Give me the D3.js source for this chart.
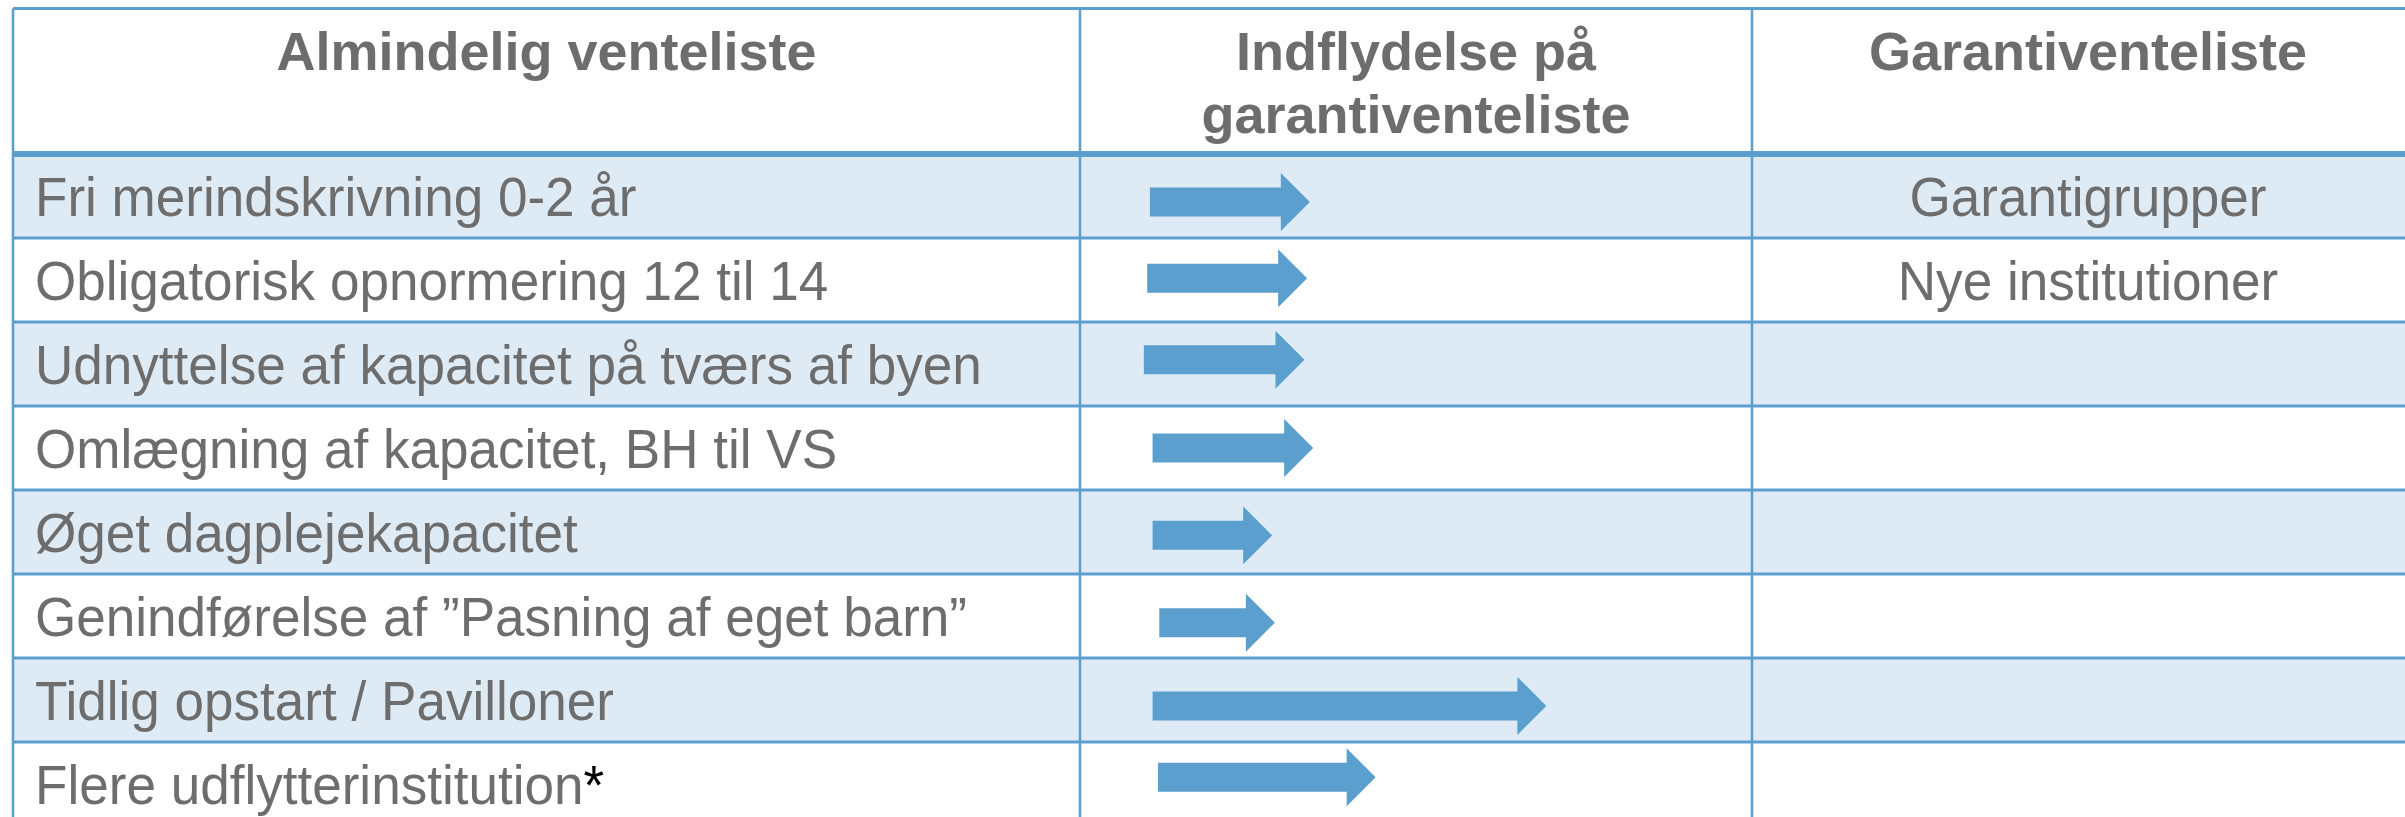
<!DOCTYPE html>
<html lang="da">

<head>
    <meta charset="UTF-8">
    <title>Venteliste</title>
    <script src="https://cdnjs.cloudflare.com/ajax/libs/d3/7.9.0/d3.min.js"></script>
    <style>
        body {
            margin: 0;
            background-color: white;
            overflow: hidden;
        }
        text {
            font-family: "Liberation Sans", Arial, Helvetica, sans-serif;
            fill: #6d6d6d;
        }
        .head {
            font-weight: bold;
            font-size: 54px;
        }
        .cell {
            font-size: 55px;
        }
    </style>
</head>

<body>
    <svg id="chart" width="2405" height="817"></svg>
    <script>
        const headers = [
            ['Almindelig venteliste'],
            ['Indflydelse på', 'garantiventeliste'],
            ['Garantiventeliste'],
        ];

        const measures = [
            'Fri merindskrivning 0-2 år',
            'Obligatorisk opnormering 12 til 14',
            'Udnyttelse af kapacitet på tværs af byen',
            'Omlægning af kapacitet, BH til VS',
            'Øget dagplejekapacitet',
            'Genindførelse af ”Pasning af eget barn”',
            'Tidlig opstart / Pavilloner',
            'Flere udflytterinstitution',
        ];
        const footnoted = [false, false, false, false, false, false, false, true];

        // arrows: start / end on a 0-100 scale across the middle column
        const arrowStart = [10.4, 10.0, 9.5, 10.8, 10.8, 11.8, 10.8, 11.6];
        const arrowEnd = [34.2, 33.8, 33.4, 34.7, 28.6, 29.0, 69.4, 44.0];
        // vertical position of arrow inside its row (0 = top, 1 = bottom)
        const arrowRowPos = [0.57, 0.48, 0.45, 0.50, 0.54, 0.58, 0.57, 0.42];

        const guaranteeGroups = ['Garantigrupper', 'Nye institutioner', '', '', '', '', '', ''];

        const lineColor = '#5b9fcf';
        const arrowColor = '#5a9fce';
        const stripe = '#deebf5';

        const svg = d3.select('#chart');

        // column edges
        const colEdges = [13, 1080, 1752, 2424];
        const tableTop = 8.5;
        const headBottom = 154;
        const rowH = 84;
        const squeeze = 0.965; // reference font is a bit narrower than Liberation Sans

        const y = d3.scaleLinear().domain([0, 1]).range([headBottom, headBottom + rowH]);
        const xMid = d3.scaleLinear().domain([0, 100]).range([colEdges[1], colEdges[2]]);
        const colCenter = i => (colEdges[i] + colEdges[i + 1]) / 2;

        // row backgrounds
        svg.append('g').selectAll('rect')
            .data(measures)
            .join('rect')
            .attr('x', colEdges[0])
            .attr('y', (d, i) => y(i))
            .attr('width', colEdges[3] - colEdges[0])
            .attr('height', rowH)
            .attr('fill', (d, i) => i % 2 === 0 ? stripe : 'white');

        // arrows
        const shaft = 29, head = 58, headLen = 29;
        svg.append('g').selectAll('path')
            .data(measures)
            .join('path')
            .attr('fill', arrowColor)
            .attr('d', (d, i) => {
                const x0 = xMid(arrowStart[i]);
                const x1 = xMid(arrowEnd[i]);
                const cy = y(i + arrowRowPos[i]);
                const p = d3.path();
                p.moveTo(x0, cy - shaft / 2);
                p.lineTo(x1 - headLen, cy - shaft / 2);
                p.lineTo(x1 - headLen, cy - head / 2);
                p.lineTo(x1, cy);
                p.lineTo(x1 - headLen, cy + head / 2);
                p.lineTo(x1 - headLen, cy + shaft / 2);
                p.lineTo(x0, cy + shaft / 2);
                p.closePath();
                return p.toString();
            });

        // horizontal rules
        const rules = svg.append('g').attr('stroke', lineColor);
        rules.append('line')
            .attr('x1', colEdges[0]).attr('x2', 2405)
            .attr('y1', tableTop).attr('y2', tableTop)
            .attr('stroke-width', 3);
        rules.selectAll('line.row')
            .data(d3.range(measures.length + 1))
            .join('line')
            .attr('class', 'row')
            .attr('x1', colEdges[0]).attr('x2', 2405)
            .attr('y1', i => y(i)).attr('y2', i => y(i))
            .attr('stroke-width', i => i === 0 ? 6 : 3);

        // vertical rules
        rules.selectAll('line.col')
            .data(colEdges.slice(0, 3))
            .join('line')
            .attr('class', 'col')
            .attr('x1', d => d).attr('x2', d => d)
            .attr('y1', tableTop).attr('y2', 817)
            .attr('stroke-width', 2.5);

        // header text
        const headG = svg.append('g');
        headers.forEach((lines, c) => {
            const t = headG.append('text')
                .attr('class', 'head')
                .attr('text-anchor', 'middle')
                .attr('x', colCenter(c))
                .attr('y', 70);
            t.selectAll('tspan')
                .data(lines)
                .join('tspan')
                .attr('x', colCenter(c))
                .attr('dy', (d, i) => i === 0 ? 0 : 63)
                .text(d => d);
        });

        // row labels
        const labels = svg.append('g').selectAll('text')
            .data(measures)
            .join('text')
            .attr('class', 'cell')
            .attr('transform', (d, i) => `translate(35,${y(i + 0.5) + 20}) scale(${squeeze},1)`);
        labels.append('tspan').text(d => d);
        labels.filter((d, i) => footnoted[i])
            .append('tspan')
            .style('fill', 'black')
            .text('*');

        // third column
        svg.append('g').selectAll('text')
            .data(guaranteeGroups)
            .join('text')
            .attr('class', 'cell')
            .attr('text-anchor', 'middle')
            .attr('transform', (d, i) => `translate(${colCenter(2)},${y(i + 0.5) + 20}) scale(${squeeze},1)`)
            .text(d => d);
    </script>
</body>

</html>
